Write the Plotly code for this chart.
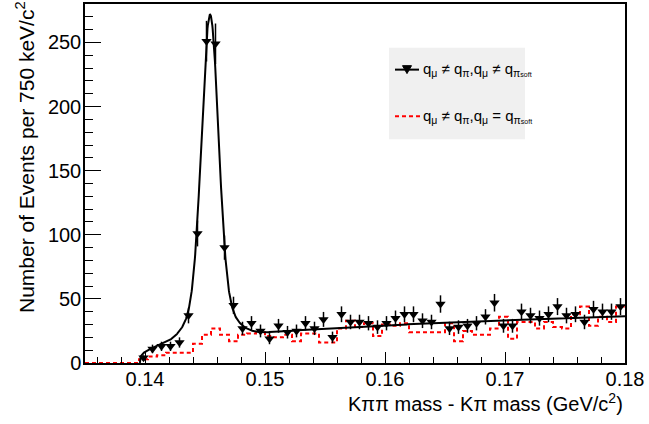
import numpy as np
import plotly.graph_objects as go

# ---- binning (60 bins of 750 keV from 0.135 to 0.180 GeV/c^2) ----
bin_low = 0.135
bin_width = 0.00075
n_bins = 60

# ---- data: q_mu != q_pi, q_mu != q_pi_soft (black triangles), bins 0..59 ----
data_counts = [None, None, None, None, None, None,
               4, 11, 13, 13, 16, 37, 101, 251, 249, 90,
               45, 27, 31, 25, 19, 29, 24, 25, 31, 27,
               34, 20, 38, 32, 32, 31, 28, 31, 35, 38,
               38, 33, 32, 46, 27, 28, 29, 31, 36, 47,
               29, 29, 40, 37, 35, 38, 44, 37, 38, 32,
               42, 40, 40, 44]

# ---- q_mu != q_pi, q_mu = q_pi_soft (red dashed histogram), bins 0..59 ----
ws_counts = [0, 0, 0, 0, 0, 0,
             3, 5, 6, 8, 8, 8, 15, 22, 27, 22,
             17, 22, 23, 25, 21, 20, 22, 17, 23, 23,
             16, 16, 27, 33, 28, 31, 21, 30, 29, 31,
             24, 24, 24, 24, 31, 17, 25, 22, 22, 27,
             36, 19, 32, 32, 27, 32, 28, 27, 38, 44,
             29, 36, 32, 44]

# ---- fit parameters (signal: double Gaussian, background: threshold power law) ----
fit_mean = 0.14542
core_amp, core_sigma = 217.0, 0.00068
wide_amp, wide_sigma = 35.0, 0.0015
bkg_norm, bkg_power = 100.6, 0.317
pi_threshold = 0.13957

x_ticks = [0.14, 0.15, 0.16, 0.17, 0.18]
x_tick_text = ["0.14", "0.15", "0.16", "0.17", "0.18"]
y_ticks = [0, 50, 100, 150, 200, 250]

edges = bin_low + bin_width * np.arange(n_bins + 1)
centers = 0.5 * (edges[:-1] + edges[1:])

# black points
pts_x, pts_y, pts_e = [], [], []
for c, n in zip(centers, data_counts):
    if n is not None:
        pts_x.append(c)
        pts_y.append(n)
        pts_e.append(np.sqrt(n))

# red step histogram
step_x = list(edges)
step_y = list(ws_counts) + [ws_counts[-1]]

# fit curve
fx = np.linspace(pi_threshold, edges[-1], 1500)
dx = np.clip(fx - pi_threshold, 0, None)
fy = (bkg_norm * dx ** bkg_power
      + core_amp * np.exp(-0.5 * ((fx - fit_mean) / core_sigma) ** 2)
      + wide_amp * np.exp(-0.5 * ((fx - fit_mean) / wide_sigma) ** 2))

FONT = "Liberation Sans, Arial, Helvetica, sans-serif"

fig = go.Figure()
fig.add_trace(go.Scatter(x=step_x, y=step_y, mode="lines", line_shape="hv",
                         line=dict(color="#ff0000", width=2, dash="4px,3px"),
                         showlegend=False, hoverinfo="skip"))
fig.add_trace(go.Scatter(x=fx, y=fy, mode="lines",
                         line=dict(color="black", width=2),
                         showlegend=False, hoverinfo="skip"))
fig.add_trace(go.Scatter(x=pts_x, y=pts_y, mode="markers",
                         marker=dict(symbol="triangle-down", size=9, color="black"),
                         error_y=dict(type="data", array=pts_e, visible=True,
                                      color="black", thickness=1.5, width=0),
                         showlegend=False))

L, R, T, B = 85, 24, 2, 61
W, H = 649, 424
pw, ph = W - L - R, H - T - B


def px(x):
    return (x - L) / pw


def py(y):
    return (H - B - y) / ph


shapes = []
# legend box
shapes.append(dict(type="rect", xref="paper", yref="paper",
                   x0=px(389), x1=px(525), y0=py(138), y1=py(46),
                   fillcolor="#f0f0f0", line=dict(width=0), layer="below"))
shapes.append(dict(type="line", xref="paper", yref="paper",
                   x0=px(395), x1=px(419), y0=py(68), y1=py(68),
                   line=dict(color="black", width=2)))
tri = "M {} {} L {} {} L {} {} Z".format(px(402.5), py(64), px(411.5), py(64), px(407), py(72))
shapes.append(dict(type="path", xref="paper", yref="paper", path=tri,
                   fillcolor="black", line=dict(color="black", width=1)))
shapes.append(dict(type="line", xref="paper", yref="paper",
                   x0=px(395), x1=px(420), y0=py(115), y1=py(115),
                   line=dict(color="#ff0000", width=2, dash="4px,3px")))

annotations = [
    dict(text="q<sub>μ</sub> ≠ q<sub>π</sub>,q<sub>μ</sub> ≠ q<sub>π<span style='font-size:7px'>soft</span></sub>",
         xref="paper", yref="paper", x=px(421), y=py(68), xanchor="left", yanchor="middle",
         showarrow=False, font=dict(family=FONT, size=15, color="black")),
    dict(text="q<sub>μ</sub> ≠ q<sub>π</sub>,q<sub>μ</sub> = q<sub>π<span style='font-size:7px'>soft</span></sub>",
         xref="paper", yref="paper", x=px(421), y=py(115), xanchor="left", yanchor="middle",
         showarrow=False, font=dict(family=FONT, size=15, color="black")),
    dict(text="Kππ mass - Kπ mass (GeV/c<sup>2</sup>)",
         xref="paper", yref="paper", x=1.0, y=py(403), xanchor="right", yanchor="middle",
         showarrow=False, font=dict(family=FONT, size=20, color="black")),
    dict(text="Number of Events per 750 keV/c<sup>2</sup>", textangle=-90,
         xref="paper", yref="paper", x=px(25), y=py(-3), xanchor="center", yanchor="top",
         showarrow=False, font=dict(family=FONT, size=21, color="black")),
]

fig.update_layout(
    width=W, height=H,
    margin=dict(l=L, r=R, t=T, b=B),
    paper_bgcolor="white", plot_bgcolor="white",
    font=dict(family=FONT, size=20, color="black"),
    shapes=shapes, annotations=annotations,
    showlegend=False,
)
fig.update_xaxes(range=[edges[0], edges[-1]], tickvals=x_ticks, ticktext=x_tick_text,
                 ticks="inside", ticklen=11, tickwidth=1, tickcolor="black",
                 minor=dict(dtick=0.002, tick0=0.14, ticks="inside", ticklen=6, tickcolor="black"),
                 showgrid=False, zeroline=False, showline=True, linecolor="black",
                 linewidth=1.5, mirror=True, tickfont=dict(size=20),
                 ticklabelstandoff=-3)
fig.update_yaxes(range=[0, 280], tickvals=y_ticks,
                 ticks="inside", ticklen=16, tickwidth=1, tickcolor="black",
                 minor=dict(dtick=10, tick0=0, ticks="inside", ticklen=8, tickcolor="black"),
                 showgrid=False, zeroline=False, showline=True, linecolor="black",
                 linewidth=1.5, mirror=True, tickfont=dict(size=20),
                 ticklabelstandoff=-2)

fig.write_html("out.html", config={"displayModeBar": False},
               post_script="document.body.style.margin='0px';document.body.style.overflow='hidden';")
